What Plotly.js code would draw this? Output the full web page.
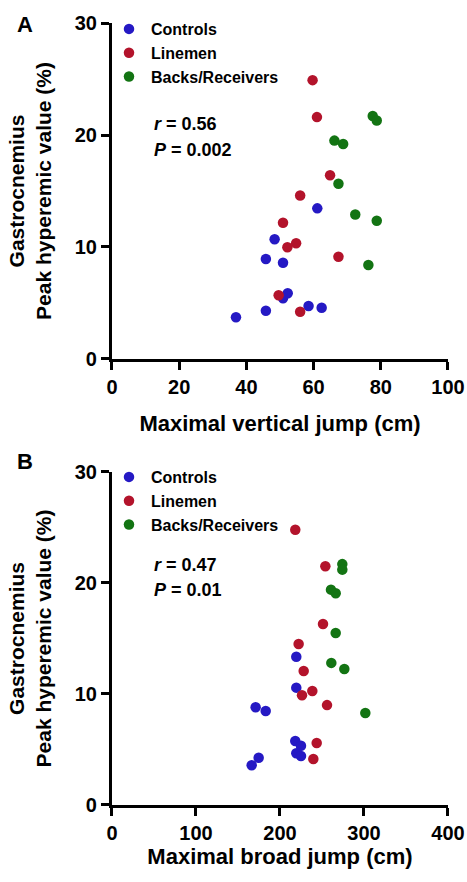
<!DOCTYPE html>
<html>
<head>
<meta charset="utf-8">
<script src="https://cdn.plot.ly/plotly-3.0.1.min.js"></script>
<style>html,body{margin:0;padding:0;background:#fff}#chart{width:467px;height:882px}</style>
</head>
<body>
<div id="chart"></div>
<script>
// Panel A: maximal vertical jump (cm) vs peak hyperemic value (%)
const controlsVJ = [61.1, 48.4, 45.8, 50.9, 52.3, 50.9, 58.5, 62.4, 45.8, 36.9];
const controlsVJ_PH = [13.45, 10.69, 8.93, 8.60, 5.87, 5.42, 4.73, 4.58, 4.31, 3.72];
const linemenVJ = [59.7, 61.0, 64.9, 56.0, 50.9, 54.8, 52.2, 67.4, 49.6, 56.0];
const linemenVJ_PH = [24.9, 21.6, 16.4, 14.6, 12.17, 10.33, 9.97, 9.13, 5.69, 4.22];
const backsVJ = [77.6, 78.8, 66.2, 68.8, 67.4, 72.4, 78.8, 76.3];
const backsVJ_PH = [21.7, 21.3, 19.5, 19.2, 15.65, 12.9, 12.35, 8.39];

// Panel B: maximal broad jump (cm) vs peak hyperemic value (%)
const controlsBJ = [219.4, 219.4, 171, 183, 218.2, 225, 219.4, 225, 174.6, 166.3];
const controlsBJ_PH = [13.36, 10.57, 8.8, 8.47, 5.77, 5.34, 4.66, 4.41, 4.26, 3.58];
const linemenBJ = [218.2, 254, 251.2, 222.2, 228.2, 238.5, 226.2, 256, 243.7, 239.7];
const linemenBJ_PH = [24.8, 21.5, 16.3, 14.5, 12.07, 10.27, 9.88, 9.0, 5.59, 4.14];
const backsBJ = [274.2, 274.2, 260.7, 266.3, 266.3, 261.1, 276.6, 301.6];
const backsBJ_PH = [21.7, 21.2, 19.4, 19.07, 15.5, 12.8, 12.25, 8.29];

const groupNames = ['Controls', 'Linemen', 'Backs/Receivers'];
const statsA = ['<i>r</i> = 0.56', '<i>P</i> = 0.002'];
const statsB = ['<i>r</i> = 0.47', '<i>P</i> = 0.01'];
const xTicksA = [0, 20, 40, 60, 80, 100];
const xTicksB = [0, 100, 200, 300, 400];
const yTicks = [0, 10, 20, 30];

const colors = ['#2519c4', '#b3132b', '#137413'];
const FONT = 'Liberation Sans, Arial, sans-serif';

function mk(x, y, i, xa, ya, leg) {
  return {
    type: 'scatter', mode: 'markers', x: x, y: y, name: groupNames[i],
    xaxis: xa, yaxis: ya, legend: leg,
    marker: {color: colors[i], size: 10.5, line: {width: 0}},
    showlegend: true, hoverinfo: 'x+y+name', cliponaxis: false
  };
}

const data = [
  mk(controlsVJ, controlsVJ_PH, 0, 'x', 'y', 'legend'),
  mk(linemenVJ, linemenVJ_PH, 1, 'x', 'y', 'legend'),
  mk(backsVJ, backsVJ_PH, 2, 'x', 'y', 'legend'),
  mk(controlsBJ, controlsBJ_PH, 0, 'x2', 'y2', 'legend2'),
  mk(linemenBJ, linemenBJ_PH, 1, 'x2', 'y2', 'legend2'),
  mk(backsBJ, backsBJ_PH, 2, 'x2', 'y2', 'legend2')
];

const tickFont = {family: FONT, size: 20, color: '#000', weight: 700};
const titleFont = {family: FONT, size: 22, color: '#000', weight: 700};

function xaxis(anchor, ticks, title, standoff) {
  return {
    domain: [0.2398, 0.9593], anchor: anchor, range: [ticks[0], ticks[ticks.length - 1]],
    tickvals: ticks, ticktext: ticks.map(String),
    showline: true, linecolor: '#000', linewidth: 3,
    ticks: 'outside', ticklen: 8, tickwidth: 3, tickcolor: '#000',
    showgrid: false, zeroline: false, tickfont: tickFont,
    title: {text: title, font: titleFont, standoff: standoff}, automargin: false, fixedrange: true
  };
}
function yaxis(domain, anchor) {
  return {
    domain: domain, anchor: anchor, range: [0, 30],
    tickvals: yTicks, ticktext: yTicks.map(String),
    showline: true, linecolor: '#000', linewidth: 3,
    ticks: 'outside', ticklen: 8, tickwidth: 3, tickcolor: '#000',
    showgrid: false, zeroline: false, tickfont: tickFont,
    title: {text: 'Gastrocnemius<br>Peak hyperemic value (%)', font: {family: FONT, size: 21, color: '#000', weight: 700}, standoff: 18},
    automargin: false, fixedrange: true
  };
}

const legendBase = {
  font: {family: FONT, size: 16, color: '#000', weight: 700},
  bgcolor: 'rgba(0,0,0,0)', borderwidth: 0, xanchor: 'left', yanchor: 'top',
  tracegroupgap: 0, itemclick: false, itemdoubleclick: false, itemwidth: 34
};

function statAnn(txt, y) {
  return {text: '<b>' + txt + '</b>', xref: 'paper', yref: 'paper', x: 152 / 467, y: y,
    xanchor: 'left', yanchor: 'middle', showarrow: false,
    font: {family: FONT, size: 18, color: '#000'}};
}

const layout = {
  width: 467, height: 882,
  margin: {l: 0, r: 0, t: 0, b: 0},
  paper_bgcolor: '#fff', plot_bgcolor: '#fff',
  showlegend: true,
  xaxis: xaxis('y', xTicksA, 'Maximal vertical jump (cm)', 19),
  yaxis: yaxis([0.5930, 0.9739], 'x'),
  xaxis2: xaxis('y2', xTicksB, 'Maximal broad jump (cm)', 3),
  yaxis2: yaxis([0.0873, 0.4649], 'x2'),
  legend: Object.assign({}, legendBase, {x: 107 / 467, y: 1 - 12 / 882}),
  legend2: Object.assign({}, legendBase, {x: 107 / 467, y: 1 - 460 / 882}),
  annotations: [
    {text: '<b>A</b>', xref: 'paper', yref: 'paper', x: 24.5 / 467, y: 1 - 24.5 / 882, xanchor: 'center', yanchor: 'middle', showarrow: false, font: {family: FONT, size: 22, color: '#000'}},
    {text: '<b>B</b>', xref: 'paper', yref: 'paper', x: 24.5 / 467, y: 1 - 461.5 / 882, xanchor: 'center', yanchor: 'middle', showarrow: false, font: {family: FONT, size: 22, color: '#000'}},
    statAnn(statsA[0], 1 - 124.5 / 882),
    statAnn(statsA[1], 1 - 149.5 / 882),
    statAnn(statsB[0], 1 - 564.5 / 882),
    statAnn(statsB[1], 1 - 590 / 882)
  ]
};

Plotly.newPlot('chart', data, layout, {displayModeBar: false, staticPlot: true});
</script>
</body>
</html>
